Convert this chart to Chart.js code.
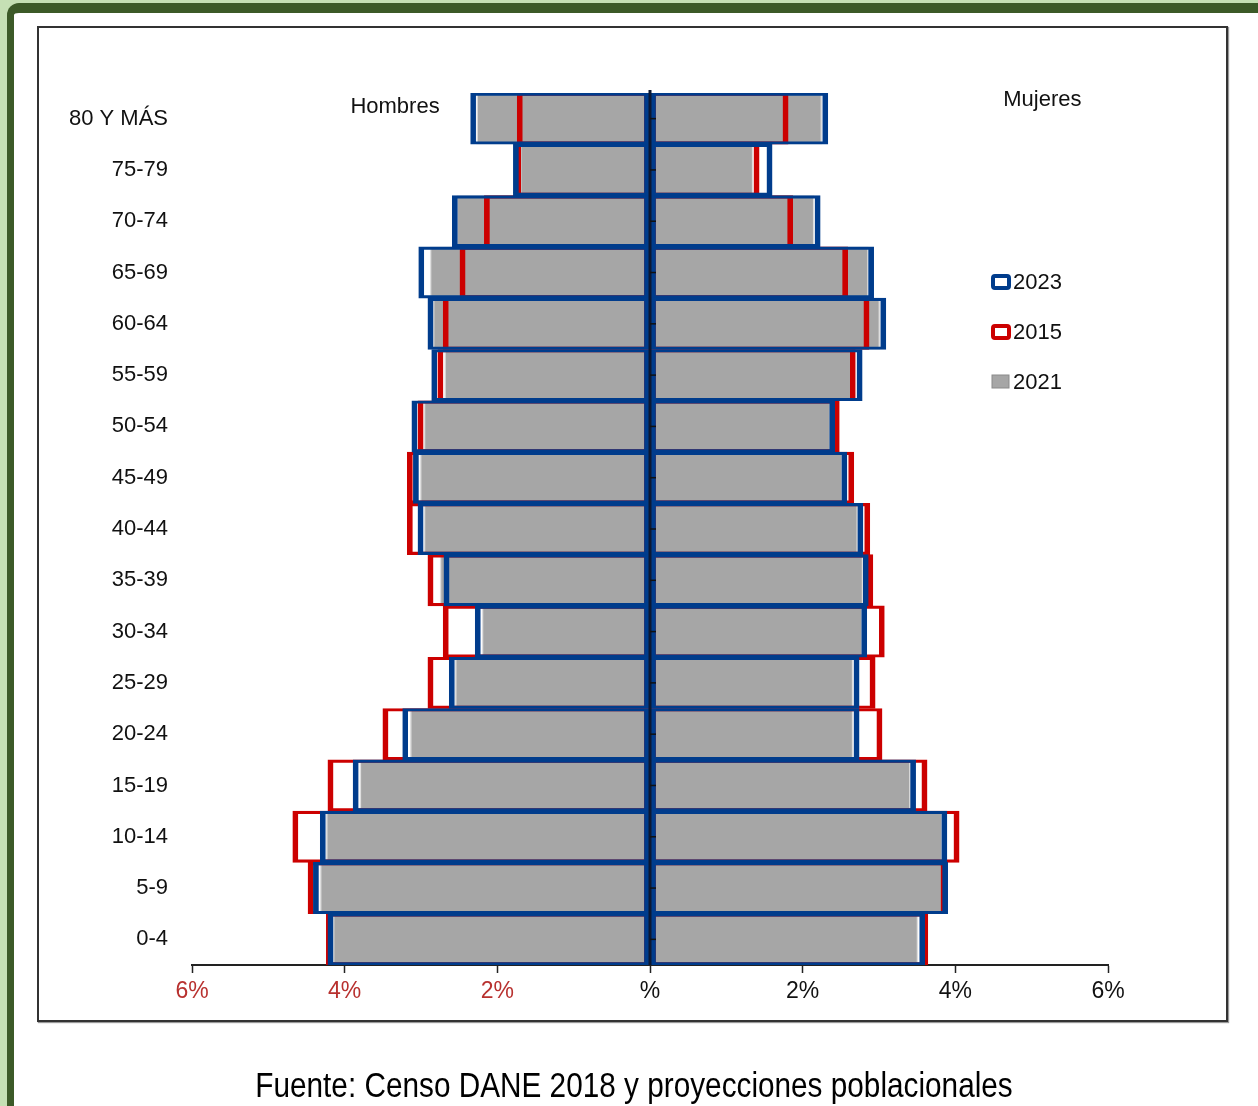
<!DOCTYPE html>
<html>
<head>
<meta charset="utf-8">
<script src="https://cdn.jsdelivr.net/npm/chart.js@4.4.0/dist/chart.umd.min.js"></script>
<style>
  html, body { margin: 0; padding: 0; }
  body { width: 1258px; height: 1106px; overflow: hidden; position: relative; background: #c5e0b4; font-family: "Liberation Sans", Arial, sans-serif; }
  #frame { position: absolute; left: 7px; top: 3px; width: 1300px; height: 1200px; background: #fff; border-left: 7px solid #3c5a28; border-top: 10px solid #3c5a28; border-top-left-radius: 12px; }
  #box { position: absolute; left: 37px; top: 26px; width: 1187px; height: 992px; border: 2px solid #333; box-shadow: 1px 1px 1px #999; background: #fff; }
  #chart { position: absolute; left: 0; top: 0; }
  #source { position: absolute; left: 0; top: 1065px; width: 1268px; text-align: center; font-size: 35px; color: #000; transform: scaleX(0.85); transform-origin: center; white-space: nowrap; }
</style>
</head>
<body>
<div id="frame"></div>
<div id="box"></div>
<canvas id="chart" width="1258" height="1106"></canvas>
<div id="source">Fuente: Censo DANE 2018 y proyecciones poblacionales</div>
<script>
// age groups, top to bottom
const categories = ['80 Y MÁS', '75-79', '70-74', '65-69', '60-64', '55-59', '50-54', '45-49', '40-44', '35-39', '30-34', '25-29', '20-24', '15-19', '10-14', '5-9', '0-4'];

// men, % of population (drawn to the left)
const hombres2023 = [2.35, 1.79, 2.59, 3.03, 2.91, 2.86, 3.12, 3.10, 3.04, 2.70, 2.29, 2.63, 3.24, 3.89, 4.32, 4.41, 4.22];
const hombres2015 = [1.74, 1.76, 2.17, 2.49, 2.71, 2.78, 3.04, 3.18, 3.18, 2.91, 2.71, 2.91, 3.50, 4.22, 4.68, 4.48, 4.24];
const hombres2021 = [2.27, 1.70, 2.53, 2.88, 2.84, 2.69, 2.96, 3.01, 2.96, 2.75, 2.20, 2.55, 3.14, 3.80, 4.24, 4.32, 4.15];

// women, % of population (drawn to the right)
const mujeres2023 = [2.33, 1.60, 2.23, 2.93, 3.09, 2.78, 2.42, 2.58, 2.79, 2.86, 2.84, 2.74, 2.74, 3.48, 3.89, 3.90, 3.60];
const mujeres2015 = [1.81, 1.43, 1.87, 2.59, 2.87, 2.69, 2.48, 2.67, 2.88, 2.92, 3.07, 2.95, 3.04, 3.63, 4.05, 3.88, 3.64];
const mujeres2021 = [2.25, 1.35, 2.15, 2.86, 3.01, 2.65, 2.36, 2.52, 2.72, 2.79, 2.78, 2.66, 2.66, 3.41, 3.83, 3.83, 3.51];

const xTickLabels = ['6%', '4%', '2%', '%', '2%', '4%', '6%'];

const BLUE = '#003c8c';
const RED = '#cc0000';
const GRAY = '#a6a6a6';
const FONT = '"Liberation Sans", Arial, sans-serif';

Chart.defaults.font.family = FONT;

const blueBorder = { top: 2.5, bottom: 2.5, left: 5, right: 5 };
const redBorder = { top: 2.5, bottom: 2.5, left: 5, right: 5 };

function outlineSet(label, values, color, border, order, legend) {
  return {
    label: label,
    data: values,
    backgroundColor: 'rgba(0,0,0,0)',
    borderColor: color,
    borderWidth: border,
    borderSkipped: false,
    grouped: false,
    order: order,
    legend: legend
  };
}

const datasets = [
  outlineSet('2023', hombres2023.map(v => -v), BLUE, blueBorder, 0, 1),
  outlineSet('2023', mujeres2023, BLUE, blueBorder, 0, 0),
  outlineSet('2015', hombres2015.map(v => -v), RED, redBorder, 1, 2),
  outlineSet('2015', mujeres2015, RED, redBorder, 1, 0),
  { label: '2021', data: hombres2021.map(v => -v), backgroundColor: GRAY, borderColor: '#dedede', borderWidth: 1.5, borderSkipped: false, grouped: false, order: 2, legend: 3 },
  { label: '2021', data: mujeres2021, backgroundColor: GRAY, borderColor: '#dedede', borderWidth: 1.5, borderSkipped: false, grouped: false, order: 2, legend: 0 }
];

// centre axis, side titles and the legend
const decorPlugin = {
  id: 'decor',
  afterDatasetsDraw(chart) {
    const { ctx, chartArea, scales: { x, y } } = chart;
    const x0 = x.getPixelForValue(0);
    ctx.save();
    ctx.strokeStyle = '#0c1833';
    ctx.lineWidth = 3;
    ctx.beginPath();
    ctx.moveTo(x0, chartArea.top - 3);
    ctx.lineTo(x0, chartArea.bottom);
    ctx.stroke();
    ctx.strokeStyle = '#111';
    ctx.lineWidth = 1.5;
    categories.forEach((c, i) => {
      const py = y.getPixelForValue(i);
      ctx.beginPath();
      ctx.moveTo(x0, py);
      ctx.lineTo(x0 + 6, py);
      ctx.stroke();
    });
    ctx.restore();
  },
  afterDraw(chart) {
    const { ctx, chartArea, scales: { x } } = chart;
    ctx.save();
    ctx.fillStyle = '#111';
    ctx.font = '22px ' + FONT;
    ctx.textAlign = 'center';
    ctx.textBaseline = 'middle';
    ctx.fillText('Hombres', x.getPixelForValue(-3.34), chartArea.top + 14);
    ctx.fillText('Mujeres', x.getPixelForValue(5.14), chartArea.top + 7);

    // legend
    const items = chart.data.datasets.filter(d => d.legend).sort((a, b) => a.legend - b.legend);
    items.forEach((d, i) => {
      const cy = chartArea.top + 189 + i * 50;
      const bx = 991;
      if (d.backgroundColor === GRAY) {
        ctx.fillStyle = GRAY;
        ctx.fillRect(bx + 1, cy - 7, 17, 13);
        ctx.strokeStyle = '#8a8a8a';
        ctx.lineWidth = 1;
        ctx.strokeRect(bx + 1, cy - 7, 17, 13);
      } else {
        ctx.strokeStyle = d.borderColor;
        ctx.lineWidth = 4;
        ctx.beginPath();
        if (ctx.roundRect) ctx.roundRect(bx + 2, cy - 6, 16, 12, 2);
        else ctx.rect(bx + 2, cy - 6, 16, 12);
        ctx.stroke();
      }
      ctx.fillStyle = '#111';
      ctx.font = '22px ' + FONT;
      ctx.textAlign = 'left';
      ctx.fillText(d.label, bx + 22, cy + 1);
    });
    ctx.restore();
  }
};

new Chart(document.getElementById('chart').getContext('2d'), {
  type: 'bar',
  data: { labels: categories, datasets: datasets },
  options: {
    indexAxis: 'y',
    responsive: false,
    maintainAspectRatio: false,
    animation: false,
    devicePixelRatio: 1,
    layout: { padding: { left: 0, top: 93, right: 150, bottom: 91 } },
    datasets: { bar: { barPercentage: 1, categoryPercentage: 1 } },
    plugins: { legend: { display: false }, tooltip: { enabled: false }, title: { display: false } },
    scales: {
      x: {
        type: 'linear',
        min: -6,
        max: 6,
        afterFit: s => { s.height = 50; },
        ticks: {
          stepSize: 2,
          padding: 5,
          font: { size: 23 },
          color: c => (c.index < 3 ? '#b8312f' : '#111'),
          callback: (v, i) => xTickLabels[i]
        },
        grid: { drawOnChartArea: false, drawTicks: true, tickLength: 8, tickColor: '#222', tickWidth: 1.5 },
        border: { display: true, color: '#222', width: 2 }
      },
      y: {
        afterFit: s => { s.width = 192; },
        ticks: { autoSkip: false, padding: 24, font: { size: 22 }, color: '#111' },
        grid: { display: false, drawTicks: false },
        border: { display: false }
      }
    }
  },
  plugins: [decorPlugin]
});
</script>
</body>
</html>
